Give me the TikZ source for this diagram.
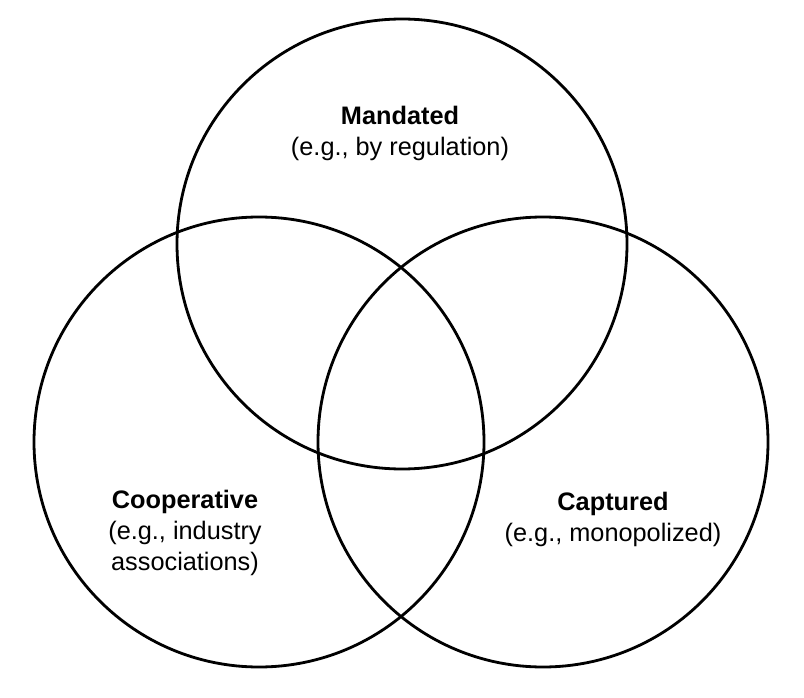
\documentclass[tikz,border=0pt]{standalone}
\usepackage{fontspec}
\setmainfont{Liberation Sans}
\usepackage{tikz}
\usetikzlibrary{positioning}

\begin{document}
\begin{tikzpicture}[every node/.style={font=\fontsize{18}{22}\selectfont}]
    \useasboundingbox (0,0) rectangle (20.1,17.425);
    \node[draw,circle,line width=2pt,minimum size=11.25cm,inner sep=0pt] (mandc) at (10.05,11.325) {};
    \node[draw,circle,line width=2pt,minimum size=11.25cm,inner sep=0pt] (coopc) at (6.475,6.375) {};
    \node[draw,circle,line width=2pt,minimum size=11.25cm,inner sep=0pt] (captc) at (13.575,6.375) {};
    \node[align=center] (mand) at (10.0,14.1) {\textbf{Mandated}\\(e.g., by regulation)};
    \node[align=center] (coop) at (4.625,4.1) {\textbf{Cooperative}\\(e.g., industry\\associations)};
    \node[align=center] (capt) at (15.325,4.45) {\textbf{Captured}\\(e.g., monopolized)};
\end{tikzpicture}
\end{document}
